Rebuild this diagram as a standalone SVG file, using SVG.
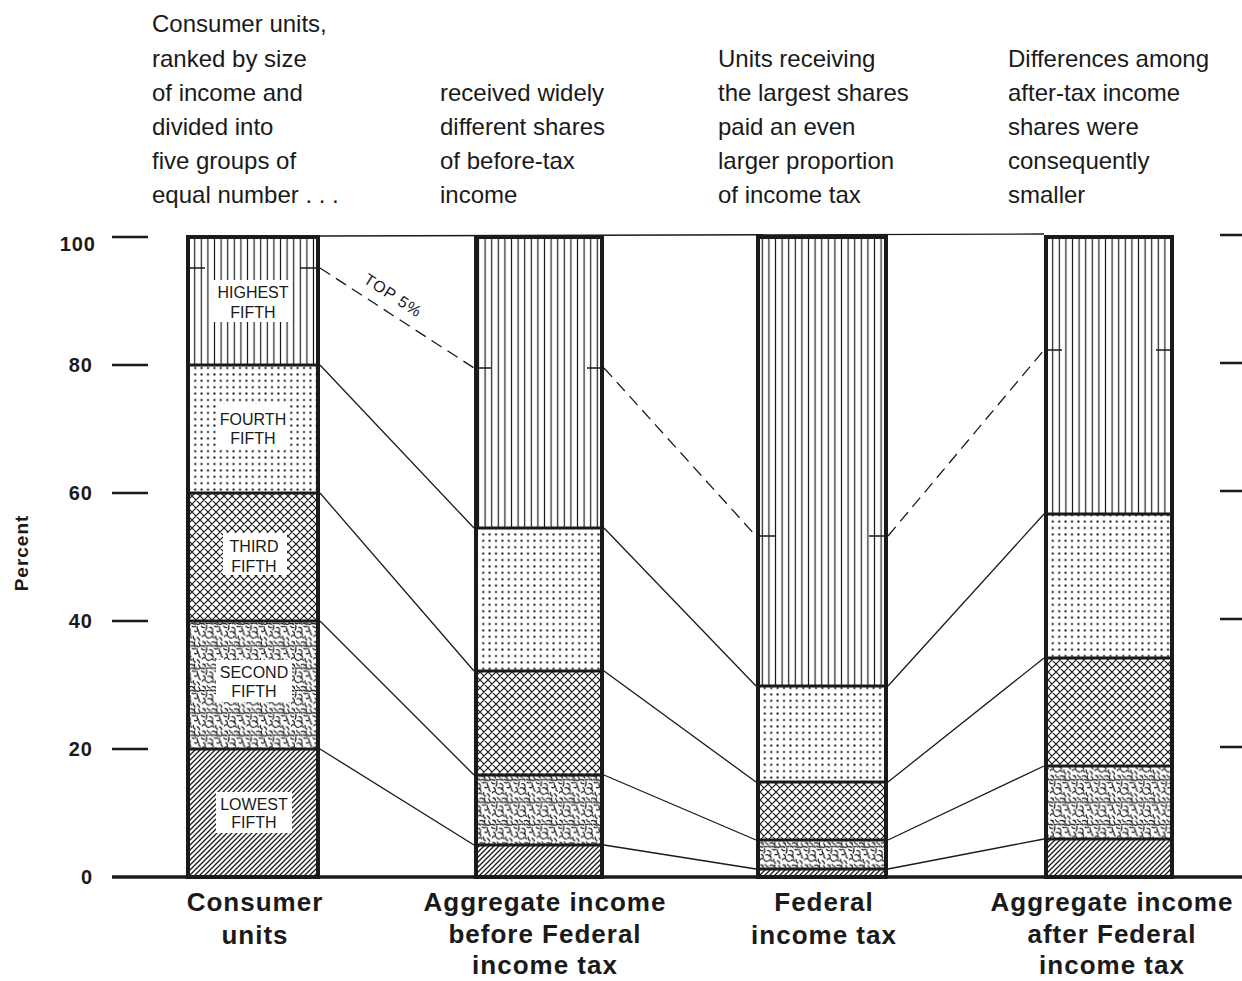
<svg xmlns="http://www.w3.org/2000/svg" width="1242" height="981" viewBox="0 0 1242 981">
<style>
.cap{font-family:"Liberation Sans",Arial,sans-serif;font-size:24px;fill:#1a1a1a}
.bl{font-family:"Liberation Sans",Arial,sans-serif;font-size:26px;font-weight:bold;fill:#1a1a1a;text-anchor:middle;letter-spacing:1px}
.tk{font-family:"Liberation Sans",Arial,sans-serif;font-size:20px;font-weight:bold;fill:#1a1a1a;text-anchor:end;letter-spacing:1px}
.sl{font-family:"Liberation Sans",Arial,sans-serif;font-size:16px;fill:#1a1a1a;text-anchor:middle}
.bar{fill:none;stroke:#1a1a1a;stroke-width:4}
.div{stroke:#1a1a1a;stroke-width:3}
.con{stroke:#1a1a1a;stroke-width:1.3;fill:none}
.dash{stroke:#1a1a1a;stroke-width:1.3;fill:none;stroke-dasharray:12 7}
.tick{stroke:#1a1a1a;stroke-width:2.5}
.mk{stroke:#1a1a1a;stroke-width:1.5}
</style>
<defs>
<pattern id="pVert" width="6.6" height="10" patternUnits="userSpaceOnUse">
<line x1="3.3" y1="0" x2="3.3" y2="10" stroke="#1a1a1a" stroke-width="1.2"/>
</pattern>
<pattern id="pDots" width="6.4" height="6.4" patternUnits="userSpaceOnUse">
<circle cx="3.2" cy="3.2" r="1.1" fill="#1a1a1a"/>
</pattern>
<pattern id="pCross" width="8" height="8" patternUnits="userSpaceOnUse">
<path d="M0 0 L8 8 M8 0 L0 8 M-1 7 L1 9 M7 -1 L9 1 M-1 1 L1 -1 M7 9 L9 7" stroke="#1a1a1a" stroke-width="1.2" fill="none"/>
</pattern>
<pattern id="pHatch" width="5" height="5" patternUnits="userSpaceOnUse">
<path d="M-1 6 L6 -1 M-1 1 L1 -1 M4 6 L6 4" stroke="#1a1a1a" stroke-width="1.3" fill="none"/>
</pattern>
<pattern id="pSquig" width="36" height="36" patternUnits="userSpaceOnUse" patternTransform="scale(0.62)">
<g stroke="#1a1a1a" stroke-width="2" fill="none" stroke-linecap="round">
<path d="M1 2 q2 3 5 2"/><path d="M9 1 q1 4 -1 7"/><path d="M14 4 q3 -1 5 3"/><path d="M22 2 q2 2 6 0"/><path d="M30 3 q-1 3 2 6"/>
<path d="M4 10 q3 1 3 5"/><path d="M11 11 q4 -2 6 2"/><path d="M19 9 q-2 3 1 7"/><path d="M26 10 q3 2 5 -1"/><path d="M33 11 q-1 4 2 5"/>
<path d="M2 19 q1 -3 5 -2"/><path d="M8 18 q2 4 6 3"/><path d="M16 20 q3 -3 5 1"/><path d="M24 18 q-1 4 3 6"/><path d="M30 20 q3 1 4 5"/>
<path d="M3 27 q4 0 4 4"/><path d="M10 26 q1 3 5 4"/><path d="M18 28 q3 -2 6 1"/><path d="M26 27 q-2 3 1 6"/><path d="M32 28 q2 2 3 6"/>
<path d="M1 34 q3 -1 5 1"/><path d="M8 33 q2 2 5 0"/><path d="M15 34 q2 -3 4 1"/><path d="M21 33 q3 1 6 2"/><path d="M29 34 q2 2 5 0"/>
</g>
</pattern>
</defs>
<rect width="1242" height="981" fill="#ffffff"/>

<g id="captions">
<text class="cap" x="152" y="32">Consumer units,</text>
<text class="cap" x="152" y="67">ranked by size</text>
<text class="cap" x="152" y="101">of income and</text>
<text class="cap" x="152" y="135">divided into</text>
<text class="cap" x="152" y="169">five groups of</text>
<text class="cap" x="152" y="203">equal number . . .</text>
<text class="cap" x="440" y="101">received widely</text>
<text class="cap" x="440" y="135">different shares</text>
<text class="cap" x="440" y="169">of before-tax</text>
<text class="cap" x="440" y="203">income</text>
<text class="cap" x="718" y="67">Units receiving</text>
<text class="cap" x="718" y="101">the largest shares</text>
<text class="cap" x="718" y="135">paid an even</text>
<text class="cap" x="718" y="169">larger proportion</text>
<text class="cap" x="718" y="203">of income tax</text>
<text class="cap" x="1008" y="67">Differences among</text>
<text class="cap" x="1008" y="101">after-tax income</text>
<text class="cap" x="1008" y="135">shares were</text>
<text class="cap" x="1008" y="169">consequently</text>
<text class="cap" x="1008" y="203">smaller</text>
</g>

<g id="axis">
<line class="tick" x1="112" y1="237" x2="148" y2="237"/>
<line class="tick" x1="112" y1="365" x2="148" y2="365"/>
<line class="tick" x1="112" y1="493" x2="148" y2="493"/>
<line class="tick" x1="112" y1="621" x2="148" y2="621"/>
<line class="tick" x1="112" y1="749" x2="148" y2="749"/>
<line class="tick" x1="1220" y1="235" x2="1242" y2="235"/>
<line class="tick" x1="1220" y1="363" x2="1242" y2="363"/>
<line class="tick" x1="1220" y1="491" x2="1242" y2="491"/>
<line class="tick" x1="1220" y1="619" x2="1242" y2="619"/>
<line class="tick" x1="1220" y1="747" x2="1242" y2="747"/>
<line x1="112" y1="877" x2="1242" y2="877" stroke="#1a1a1a" stroke-width="3.5"/>
<text class="tk" x="96" y="251">100</text>
<text class="tk" x="93" y="372">80</text>
<text class="tk" x="93" y="500">60</text>
<text class="tk" x="93" y="628">40</text>
<text class="tk" x="93" y="756">20</text>
<text class="tk" x="93" y="884">0</text>
<text transform="translate(28,553) rotate(-90)" font-family="Liberation Sans,Arial,sans-serif" font-size="19" font-weight="bold" letter-spacing="1" text-anchor="middle" fill="#1a1a1a">Percent</text>
</g>

<g id="connectors">
<path class="con" d="M320 236 L1044 234"/>
<path class="con" d="M320 365 L474 528"/>
<path class="con" d="M320 493 L474 671"/>
<path class="con" d="M320 621 L474 775"/>
<path class="con" d="M320 749 L474 845"/>
<path class="con" d="M604 528 L756 686"/>
<path class="con" d="M604 671 L756 782"/>
<path class="con" d="M604 775 L756 840"/>
<path class="con" d="M604 845 L756 869"/>
<path class="con" d="M888 686 L1044 514"/>
<path class="con" d="M888 782 L1044 658"/>
<path class="con" d="M888 840 L1044 766"/>
<path class="con" d="M888 869 L1044 839"/>
<path class="dash" d="M320 268 L474 368"/>
<path class="dash" d="M604 368 L756 536"/>
<path class="dash" d="M888 536 L1044 350"/>
<text class="sl" transform="translate(390,300) rotate(33)" font-size="16" letter-spacing="1">TOP 5%</text>
</g>

<g id="bar-consumer-units">
<rect x="188" y="237" width="130" height="128" fill="url(#pVert)"/>
<rect x="188" y="365" width="130" height="128" fill="url(#pDots)"/>
<rect x="188" y="493" width="130" height="128" fill="url(#pCross)"/>
<rect x="188" y="621" width="130" height="128" fill="url(#pSquig)"/>
<rect x="188" y="749" width="130" height="128" fill="url(#pHatch)"/>
<line class="div" x1="188" y1="365" x2="318" y2="365"/>
<line class="div" x1="188" y1="493" x2="318" y2="493"/>
<line class="div" x1="188" y1="621" x2="318" y2="621"/>
<line class="div" x1="188" y1="749" x2="318" y2="749"/>
<rect class="bar" x="188" y="237" width="130" height="640"/>
<line class="mk" x1="188" y1="268" x2="205" y2="268"/>
<line class="mk" x1="300" y1="268" x2="318" y2="268"/>
<rect x="213" y="280" width="78" height="42" fill="#fff"/>
<text class="sl" x="253" y="298">HIGHEST</text>
<text class="sl" x="253" y="318">FIFTH</text>
<rect x="218" y="404" width="72" height="44" fill="#fff"/>
<text class="sl" x="253" y="425">FOURTH</text>
<text class="sl" x="253" y="444">FIFTH</text>
<rect x="223" y="533" width="64" height="42" fill="#fff"/>
<text class="sl" x="254" y="552">THIRD</text>
<text class="sl" x="254" y="572">FIFTH</text>
<rect x="216" y="660" width="76" height="42" fill="#fff"/>
<text class="sl" x="254" y="678">SECOND</text>
<text class="sl" x="254" y="697">FIFTH</text>
<rect x="216" y="792" width="76" height="41" fill="#fff"/>
<text class="sl" x="254" y="810">LOWEST</text>
<text class="sl" x="254" y="828">FIFTH</text>
</g>

<g id="bar-income-before-tax">
<rect x="476" y="237" width="126" height="291" fill="url(#pVert)"/>
<rect x="476" y="528" width="126" height="143" fill="url(#pDots)"/>
<rect x="476" y="671" width="126" height="104" fill="url(#pCross)"/>
<rect x="476" y="775" width="126" height="70" fill="url(#pSquig)"/>
<rect x="476" y="845" width="126" height="32" fill="url(#pHatch)"/>
<line class="div" x1="476" y1="528" x2="602" y2="528"/>
<line class="div" x1="476" y1="671" x2="602" y2="671"/>
<line class="div" x1="476" y1="775" x2="602" y2="775"/>
<line class="div" x1="476" y1="845" x2="602" y2="845"/>
<rect class="bar" x="476" y="237" width="126" height="640"/>
<line class="mk" x1="476" y1="368" x2="491" y2="368"/>
<line class="mk" x1="587" y1="368" x2="602" y2="368"/>
</g>

<g id="bar-federal-income-tax">
<rect x="758" y="237" width="128" height="449" fill="url(#pVert)"/>
<rect x="758" y="686" width="128" height="96" fill="url(#pDots)"/>
<rect x="758" y="782" width="128" height="58" fill="url(#pCross)"/>
<rect x="758" y="840" width="128" height="29" fill="url(#pSquig)"/>
<rect x="758" y="869" width="128" height="8" fill="url(#pHatch)"/>
<line class="div" x1="758" y1="686" x2="886" y2="686"/>
<line class="div" x1="758" y1="782" x2="886" y2="782"/>
<line class="div" x1="758" y1="840" x2="886" y2="840"/>
<line class="div" x1="758" y1="869" x2="886" y2="869"/>
<rect class="bar" x="758" y="237" width="128" height="640"/>
<line class="mk" x1="758" y1="536" x2="776" y2="536"/>
<line class="mk" x1="869" y1="536" x2="886" y2="536"/>
</g>

<g id="bar-income-after-tax">
<rect x="1046" y="237" width="126" height="277" fill="url(#pVert)"/>
<rect x="1046" y="514" width="126" height="144" fill="url(#pDots)"/>
<rect x="1046" y="658" width="126" height="108" fill="url(#pCross)"/>
<rect x="1046" y="766" width="126" height="73" fill="url(#pSquig)"/>
<rect x="1046" y="839" width="126" height="38" fill="url(#pHatch)"/>
<line class="div" x1="1046" y1="514" x2="1172" y2="514"/>
<line class="div" x1="1046" y1="658" x2="1172" y2="658"/>
<line class="div" x1="1046" y1="766" x2="1172" y2="766"/>
<line class="div" x1="1046" y1="839" x2="1172" y2="839"/>
<rect class="bar" x="1046" y="237" width="126" height="640"/>
<line class="mk" x1="1046" y1="350" x2="1062" y2="350"/>
<line class="mk" x1="1156" y1="350" x2="1172" y2="350"/>
</g>

<g id="bar-labels">
<text class="bl" x="255" y="911">Consumer</text>
<text class="bl" x="255" y="944">units</text>
<text class="bl" x="545" y="911">Aggregate income</text>
<text class="bl" x="545" y="943">before Federal</text>
<text class="bl" x="545" y="974">income tax</text>
<text class="bl" x="824" y="911">Federal</text>
<text class="bl" x="824" y="944">income tax</text>
<text class="bl" x="1112" y="911">Aggregate income</text>
<text class="bl" x="1112" y="943">after Federal</text>
<text class="bl" x="1112" y="974">income tax</text>
</g>
</svg>
